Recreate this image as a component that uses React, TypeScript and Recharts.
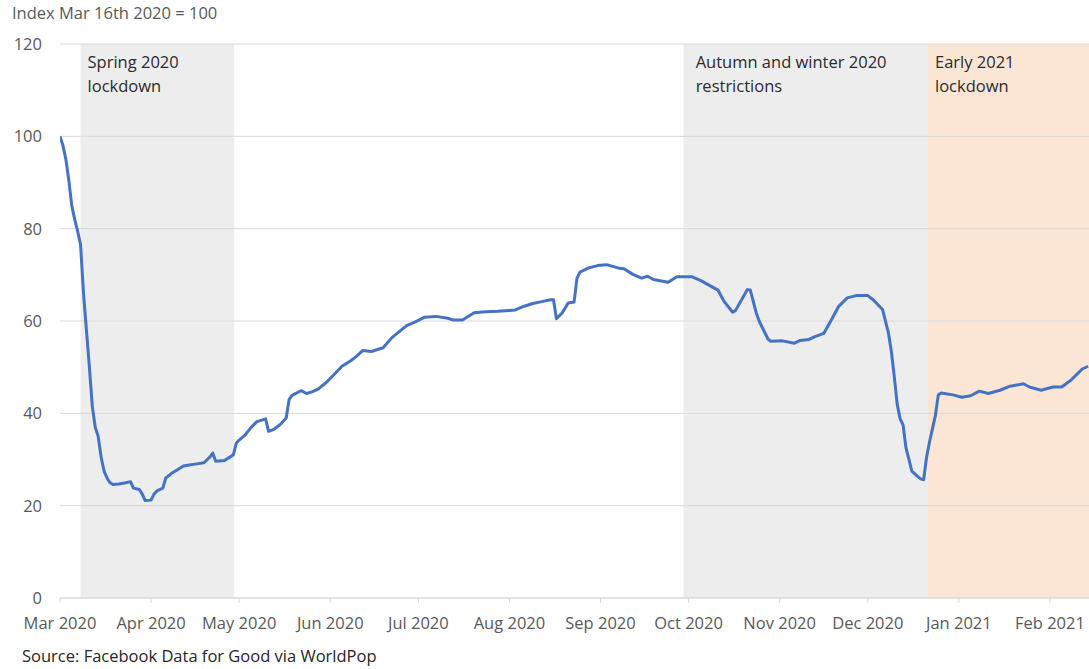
import React from "react";
import { LineChart, Line, XAxis, YAxis, ReferenceArea, ReferenceLine, Label } from "recharts";

// Days since Mar 16th 2020
const days = [
  0, 1, 2, 3, 4, 5, 6, 7, 8, 9, 10, 11, 12, 13, 14, 15, 16, 17, 18, 20, 22, 24, 25, 27, 28, 29, 31, 32, 33, 35,
  36, 38, 40, 42, 44, 46, 49, 51, 52, 53, 56, 59, 60, 61, 63, 65, 67, 70, 71, 73, 75, 77, 78, 79, 82, 84, 86, 88,
  91, 96, 99, 101, 103, 106, 110, 113, 118, 121, 124, 128, 132, 134, 137, 141, 145, 149, 153, 155, 158, 161, 164,
  167, 168, 169, 171, 173, 175, 176, 177, 180, 183, 186, 190, 192, 195, 198, 200, 202, 207, 210, 215, 218, 224,
  226, 229, 230, 234, 235, 237, 238, 241, 242, 246, 250, 252, 255, 257, 260, 263, 265, 268, 271, 275, 277, 280,
  282, 283, 284, 285, 286, 287, 288, 290, 292, 293, 294, 295, 296, 298, 299, 300, 304, 307, 310, 313, 316, 320,
  323, 328, 330, 334, 338, 341, 344, 348, 350,
];
const mobilityIndex = [
  100, 98, 95, 90.5, 85, 82, 79.5, 76.5, 66, 58, 50, 41.5, 37, 35, 30.5, 27.5, 26, 25, 24.6, 24.7, 24.9, 25.2, 23.8,
  23.5, 22.5, 21.1, 21.2, 22.5, 23.2, 23.8, 26, 27, 27.8, 28.6, 28.8, 29, 29.3, 30.5, 31.4, 29.6, 29.8, 31, 33.5,
  34.2, 35.3, 36.9, 38.2, 38.8, 36.1, 36.6, 37.6, 39, 43, 43.9, 44.9, 44.3, 44.7, 45.3, 46.9, 50.2, 51.4, 52.4,
  53.6, 53.4, 54.2, 56.4, 59, 59.8, 60.8, 61, 60.6, 60.2, 60.2, 61.8, 62, 62.1, 62.3, 62.4, 63.2, 63.8, 64.2, 64.6,
  64.6, 60.5, 61.8, 63.9, 64.1, 69.3, 70.6, 71.5, 72, 72.2, 71.5, 71.3, 70.1, 69.3, 69.7, 69, 68.4, 69.6, 69.6,
  68.8, 66.7, 64.3, 61.9, 62.3, 66.8, 66.7, 61.8, 60, 56.1, 55.6, 55.7, 55.2, 55.8, 56, 56.6, 57.3, 60.7, 63.1, 65,
  65.5, 65.5, 64.5, 62.5, 57.5, 53.5, 48, 42, 38.8, 37.5, 32.5, 27.5, 26.3, 25.8, 25.6, 30.5, 33.8, 39.5, 44, 44.4,
  44, 43.5, 43.8, 44.8, 44.3, 45, 45.8, 46.4, 45.7, 45, 45.7, 45.7, 47.1, 49.6, 50.2,
];

const monthTickDays = [0, 31, 61, 92, 122, 153, 184, 214, 245, 275, 306, 337];
const monthTickLabels = [
  "Mar 2020", "Apr 2020", "May 2020", "Jun 2020", "Jul 2020", "Aug 2020",
  "Sep 2020", "Oct 2020", "Nov 2020", "Dec 2020", "Jan 2021", "Feb 2021",
];
const yTicks = [0, 20, 40, 60, 80, 100, 120];
const xMax = 350.3;

const periodStarts = [7, 212.3, 295.5];
const periodEnds = [59.3, 295.5, xMax];
const periodLabels = [
  ["Spring 2020", "lockdown"],
  ["Autumn and winter 2020", "restrictions"],
  ["Early 2021", "lockdown"],
];

const tableData = days.map((d, i) => ({ day: d, value: mobilityIndex[i] }));

const FONT = "'Open Sans', sans-serif";
const FS = 16.5;
const periodFills = ["#EDEDED", "#EDEDED", "#FBE6D6"];
const labelDx = [7, 12, 7];

const PeriodLabel = (props: any) => {
  const { viewBox, lines, dx } = props;
  if (!viewBox) return null;
  return (
    <text x={viewBox.x + dx} y={viewBox.y + 24} fill="#2B2B2B" fontFamily={FONT} fontSize={FS}>
      {lines.map((t: string, i: number) => (
        <tspan key={i} x={viewBox.x + dx} dy={i === 0 ? 0 : 24}>
          {t}
        </tspan>
      ))}
    </text>
  );
};

export default function App() {
  return (
    <div style={{ position: "absolute", left: 0, top: 0, width: 1089, height: 669, overflow: "hidden", background: "#fff" }}>
      <div
        style={{
          position: "absolute", left: 12, top: 5, fontFamily: FONT, fontSize: FS, lineHeight: `${FS}px`,
          color: "#595959", whiteSpace: "nowrap",
        }}
      >
        Index Mar 16th 2020 = 100
      </div>
      <LineChart
        width={1089}
        height={669}
        data={tableData}
        margin={{ top: 44, right: 0, bottom: 41, left: 0 }}
        style={{ fontFamily: FONT }}
      >
        <XAxis
          dataKey="day"
          type="number"
          domain={[0, xMax]}
          ticks={monthTickDays}
          interval={0}
          allowDataOverflow
          tickFormatter={(v: number) => monthTickLabels[monthTickDays.indexOf(v)] ?? ""}
          axisLine={{ stroke: "#D9D9D9" }}
          tickLine={{ stroke: "#D9D9D9" }}
          tickSize={5}
          tickMargin={14}
          height={30}
          tick={{ fill: "#595959", fontSize: FS, fontFamily: FONT }}
        />
        <YAxis
          type="number"
          domain={[0, 120]}
          ticks={yTicks}
          interval={0}
          width={60}
          axisLine={false}
          tickLine={false}
          tickSize={6}
          tickMargin={12}
          tick={{ fill: "#595959", fontSize: FS, fontFamily: FONT }}
        />
        {periodStarts.map((s, i) => (
          <ReferenceArea
            key={`a${i}`}
            x1={s}
            x2={periodEnds[i]}
            y1={0}
            y2={120}
            fill={periodFills[i]}
            fillOpacity={1}
            stroke="none"
            ifOverflow="extendDomain"
          >
            <Label content={(p: any) => <PeriodLabel {...p} lines={periodLabels[i]} dx={labelDx[i]} />} />
          </ReferenceArea>
        ))}
        {yTicks.map((t) => (
          <ReferenceLine key={`g${t}`} y={t} stroke="#D9D9D9" strokeWidth={1} />
        ))}
        <Line
          type="linear"
          dataKey="value"
          stroke="#4472C4"
          strokeWidth={3}
          strokeLinejoin="round"
          dot={false}
          activeDot={false}
          isAnimationActive={false}
        />
      </LineChart>
      <div
        style={{
          position: "absolute", left: 22, top: 648, fontFamily: FONT, fontSize: FS, lineHeight: `${FS}px`,
          color: "#262626", whiteSpace: "nowrap",
        }}
      >
        Source: Facebook Data for Good via WorldPop
      </div>
    </div>
  );
}
